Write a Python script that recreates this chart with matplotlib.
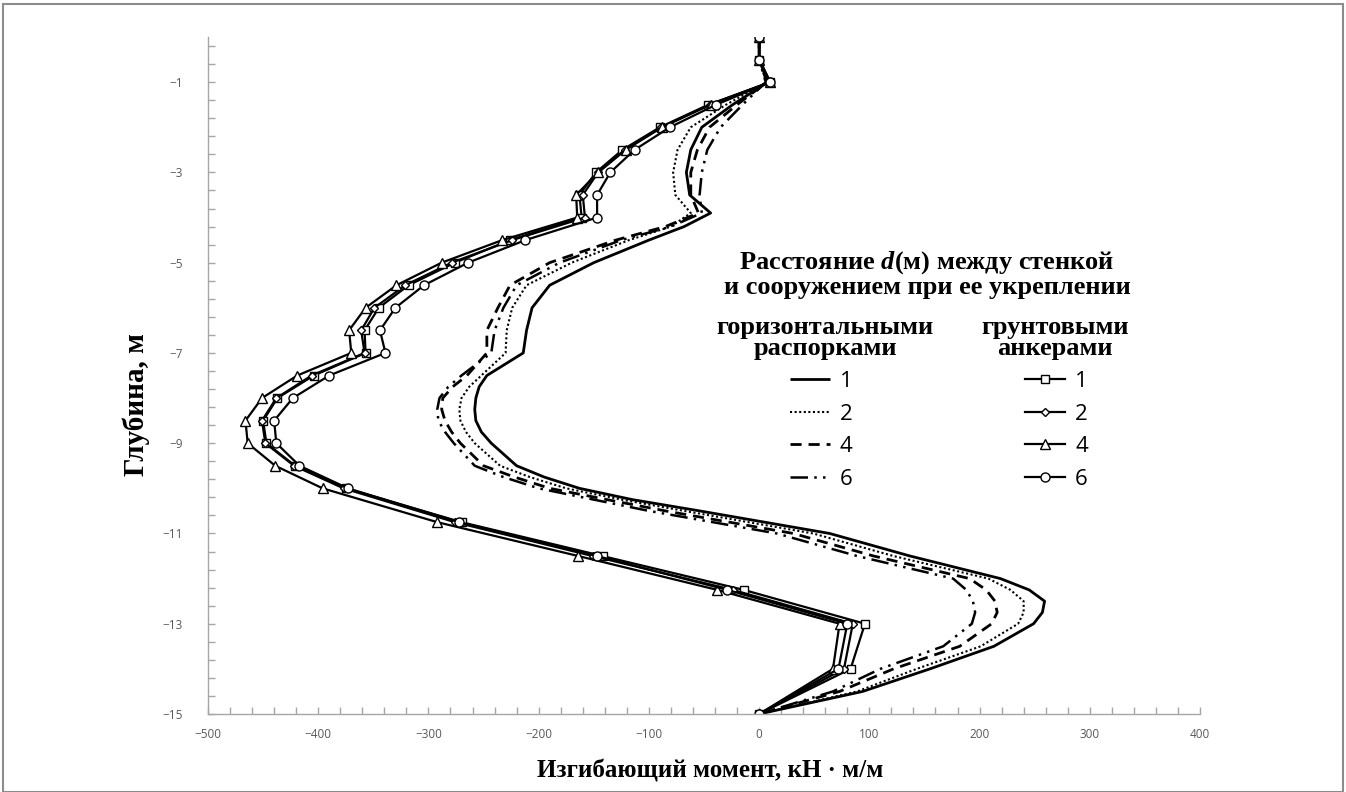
import matplotlib
matplotlib.use("Agg")
import matplotlib.pyplot as plt
from matplotlib.lines import Line2D
from matplotlib.patches import Rectangle
from matplotlib.ticker import MultipleLocator, FixedLocator
from matplotlib.font_manager import FontProperties

plt.rcParams["mathtext.fontset"] = "custom"
plt.rcParams["mathtext.rm"] = "Liberation Serif:bold"
plt.rcParams["mathtext.it"] = "Liberation Serif:italic:bold"

# Depths (m) for the anchored-wall series (markers at each depth)
anchor_depth = [0, -0.5, -1, -1.5, -2, -2.5, -3, -3.5, -4, -4.5, -5, -5.5, -6, -6.5,
                -7, -7.5, -8, -8.5, -9, -9.5, -10, -10.75, -11.5, -12.25, -13, -14, -15]
# Bending moment (kN*m/m), ground anchors, d = 1, 2, 4, 6 m
anchor_d1 = [0, 0, 10, -46, -90, -124, -148, -163, -161, -226, -276, -318, -345, -358,
             -357, -404, -437, -450, -447, -421, -375, -270, -142, -14, 96, 83, 0]
anchor_d2 = [0, 0, 10, -45, -89, -122, -146, -160, -158, -224, -279, -321, -349, -361,
             -358, -406, -438, -451, -448, -422, -377, -276, -151, -24, 85, 77, 0]
anchor_d4 = [0, 0, 10, -44, -88, -121, -146, -166, -165, -233, -288, -329, -357, -372,
             -370, -419, -451, -466, -464, -439, -396, -292, -164, -38, 73, 67, 0]
anchor_d6 = [0, 0, 10, -39, -81, -113, -135, -147, -147, -212, -264, -304, -330, -344,
             -339, -390, -423, -440, -438, -417, -373, -272, -147, -29, 80, 72, 0]

# Depths (m) for the strutted-wall series
strut_depth = [0, -0.5, -1, -1.5, -2, -2.5, -3, -3.5, -3.9, -4.2, -4.5, -5, -5.5, -6,
               -6.5, -7, -7.5, -7.75, -8, -8.25, -8.5, -8.75, -9, -9.5, -9.75, -10,
               -10.25, -10.5, -11, -11.5, -12, -12.25, -12.5, -12.75, -13, -13.5, -14,
               -14.5, -15]
# Bending moment (kN*m/m), horizontal struts, d = 1, 2, 4, 6 m
strut_d1 = [0, 0, 8, -24, -52, -62, -66, -63, -44, -68, -100, -150, -190, -206,
            -211, -214, -247, -254, -257, -258, -257, -252, -243, -220, -195, -163,
            -115, -54, 64, 137, 219, 245, 259, 257, 249, 213, 155, 94, 0]
strut_d2 = [0, 0, 7, -30, -62, -74, -78, -76, -62, -80, -118, -170, -211, -224,
            -229, -230, -252, -263, -270, -272, -271, -266, -258, -235, -208, -175,
            -125, -68, 49, 122, 208, 228, 240, 240, 235, 201, 143, 89, 0]
strut_d4 = [0, 0, 7, -20, -45, -56, -62, -62, -55, -85, -130, -190, -226, -237,
            -247, -247, -265, -278, -287, -288, -285, -279, -271, -250, -222, -190,
            -138, -85, 31, 104, 191, 206, 214, 216, 211, 182, 122, 73, 0]
strut_d6 = [0, 0, 6, -15, -35, -47, -52, -54, -52, -80, -125, -181, -220, -232,
            -240, -243, -270, -282, -290, -292, -291, -285, -277, -258, -232, -200,
            -150, -100, 16, 89, 176, 188, 194, 196, 193, 167, 110, 67, 0]

distance_labels = ["1", "2", "4", "6"]
strut_styles = [
    dict(linestyle="-", linewidth=2.0),
    dict(linestyle=(0, (1.0, 1.2)), linewidth=1.5),
    dict(linestyle=(0, (4, 2.5)), linewidth=2.0),
    dict(linestyle=(0, (7, 2.5, 1, 2.5, 1, 2.5)), linewidth=1.8),
]
anchor_markers = ["s", "D", "^", "o"]
anchor_msize = [6, 4.5, 6.5, 6.5]

x_ticks = list(range(-500, 401, 100))
y_ticks = list(range(-15, 0, 2))

W, H = 1346, 792
fig = plt.figure(figsize=(W / 100, H / 100), dpi=100)
ax = fig.add_axes([208 / W, 1 - 714 / H, (1200 - 208) / W, (714 - 37) / H])

strut_series = [strut_d1, strut_d2, strut_d4, strut_d6]
anchor_series = [anchor_d1, anchor_d2, anchor_d4, anchor_d6]

for vals, st in zip(strut_series, strut_styles):
    ax.plot(vals, strut_depth, color="black", solid_capstyle="butt",
            dash_capstyle="butt", solid_joinstyle="round", **st)

for vals, mk, ms in zip(anchor_series, anchor_markers, anchor_msize):
    ax.plot(vals, anchor_depth, color="black", linewidth=1.6, marker=mk,
            markersize=ms, markerfacecolor="white", markeredgecolor="black",
            markeredgewidth=1.0, solid_joinstyle="round")

ax.set_xlim(-500, 400)
ax.set_ylim(-15, 0)
ax.xaxis.set_major_locator(FixedLocator(x_ticks))
ax.xaxis.set_minor_locator(MultipleLocator(20))
ax.yaxis.set_major_locator(FixedLocator(y_ticks))
ax.yaxis.set_minor_locator(FixedLocator([-15 + 0.4 * k for k in range(38)]))

for side in ("top", "right"):
    ax.spines[side].set_visible(False)
for side in ("left", "bottom"):
    ax.spines[side].set_color("#a6a6a6")
    ax.spines[side].set_linewidth(1.0)

ax.tick_params(which="both", direction="in", color="#a6a6a6", width=1.0, length=5)
ax.tick_params(axis="x", pad=10)
ax.tick_params(axis="y", pad=18)
for lab in ax.get_xticklabels() + ax.get_yticklabels():
    lab.set_fontfamily("Open Sans")
    lab.set_fontsize(8.5)
    lab.set_color("#595959")

ax.set_xlabel("Изгибающий момент, кН · м/м", fontfamily="Liberation Serif",
              fontweight="bold", fontsize=18)
ax.xaxis.set_label_coords((710 - 208) / (1200 - 208), -(759 - 714) / (714 - 37))
ax.set_ylabel("Глубина, м", fontfamily="Liberation Serif", fontweight="bold",
              fontsize=21)
ax.yaxis.set_label_coords(-(208 - 150) / (1200 - 208), (714 - 405) / (714 - 37))

serif_bold = dict(fontfamily="Liberation Serif", fontweight="bold", fontsize=19)

# Legend heading
fig.text(927 / W, 1 - 274 / H,
         "Расстояние $d$(м) между стенкой\nи сооружением при ее укреплении",
         ha="center", va="center", linespacing=1.0, **serif_bold)
fig.text(825 / W, 1 - 338 / H, "горизонтальными\nраспорками",
         ha="center", va="center", linespacing=0.85, **serif_bold)
fig.text(1055 / W, 1 - 338 / H, "грунтовыми\nанкерами",
         ha="center", va="center", linespacing=0.85, **serif_bold)

label_fp = FontProperties(family="Open Sans", size=16)

strut_handles = [Line2D([], [], color="black", solid_capstyle="butt", **st)
                 for st in strut_styles]
anchor_handles = [Line2D([], [], color="black", linewidth=1.6, marker=mk,
                         markersize=ms, markerfacecolor="white",
                         markeredgecolor="black", markeredgewidth=1.0)
                  for mk, ms in zip(anchor_markers, anchor_msize)]

legend_kw = dict(prop=label_fp, frameon=False, loc="upper left", handlelength=1.8,
                 handletextpad=0.45, labelspacing=0.52, borderpad=0.0,
                 borderaxespad=0.0)
fig.legend(strut_handles, distance_labels,
           bbox_to_anchor=(790 / W, 1 - 371 / H), **legend_kw)
fig.legend(anchor_handles, distance_labels,
           bbox_to_anchor=(1025 / W, 1 - 371 / H), **legend_kw)

# Thin grey frame around the whole figure
fig.patches.append(Rectangle((3 / W, 0.0), 1 - 6 / W, 1 - 4 / H,
                             transform=fig.transFigure, fill=False,
                             edgecolor="#8c8c8c", linewidth=1.5))

fig.savefig("out.png", dpi=100, facecolor="white")
